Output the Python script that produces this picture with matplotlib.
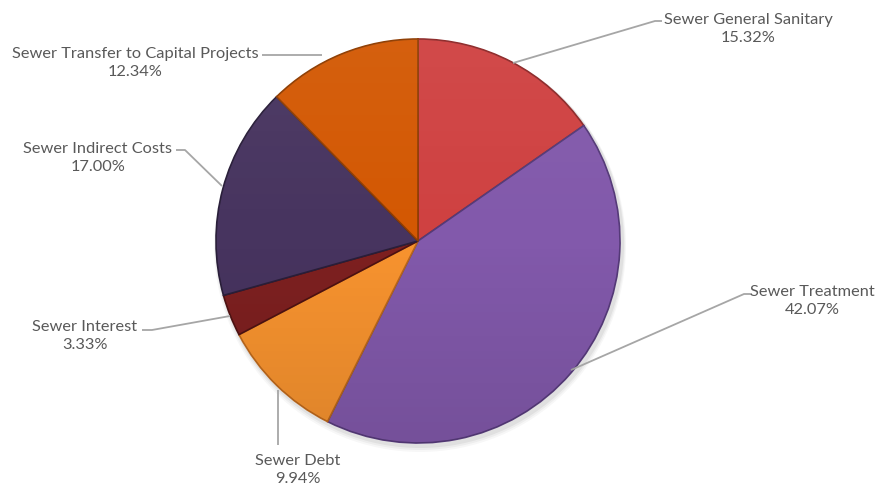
import matplotlib
matplotlib.use("Agg")
import numpy as np
import matplotlib.pyplot as plt

# sewer fund expenditure shares
names = ['Sewer General Sanitary', 'Sewer Treatment', 'Sewer Debt',
         'Sewer Interest', 'Sewer Indirect Costs', 'Sewer Transfer to Capital Projects']
shares = [15.32, 42.07, 9.94, 3.33, 17.00, 12.34]
colors = ['#cf4141', '#8259ab', '#f7932f', '#7d2020', '#47345f', '#d35803']
edges = ['#8e2a2a', '#553a78', '#b8661c', '#4e1212', '#2a1f3a', '#8f3d02']

W, H = 887, 490
fig = plt.figure(figsize=(W / 100, H / 100), dpi=100)
ax = fig.add_axes([0, 0, 1, 1])

cx, cy, r = 418, H - 241, 202

# soft shadow under the pie
for i, a in enumerate([0.05, 0.04, 0.03]):
    sh = plt.Circle((cx + 2, cy - 3 - i), r + 2 + i, color='black', alpha=a, lw=0)
    ax.add_patch(sh)

wedges, _ = ax.pie(shares, colors=colors, startangle=90, counterclock=False,
                   center=(cx, cy), radius=r, frame=True,
                   wedgeprops=dict(linewidth=1.2))
for w, ec in zip(wedges, edges):
    w.set_edgecolor(ec)

# light-to-dark vertical shading over the pie
g = np.linspace(0, 1, 256)[:, None]
shade = np.zeros((256, 1, 4))
shade[..., :3] = np.where(g < 0.5, 1.0, 0.0)[..., None]
shade[..., 3] = np.abs(g - 0.5) * np.where(g < 0.5, 0.1, 0.2)
img = ax.imshow(shade, extent=(cx - r, cx + r, cy - r, cy + r), origin='upper',
                aspect='auto', zorder=3, interpolation='bilinear')
img.set_clip_path(plt.Circle((cx, cy), r, transform=ax.transData))

ax.set_xlim(0, W)
ax.set_ylim(0, H)
ax.set_aspect('equal')
ax.axis('off')

# label positions (text centre) and leader line vertices, in pixels from top-left
label_xy = [(748, 29), (812, 301), (298, 470), (85, 336), (98, 158), (135, 63)]
leaders = [
    [(513, 63), (655, 21), (662, 21)],
    [(571, 370), (744, 294), (752, 294)],
    [(278, 390), (278, 445)],
    [(230, 316), (152, 330), (142, 330)],
    [(222, 186), (185, 150), (176, 150)],
    [(322, 55), (262, 55)],
]

grey = '#595959'
for name, v, (lx, ly), pts in zip(names, shares, label_xy, leaders):
    xs = [p[0] for p in pts]
    ys = [H - p[1] for p in pts]
    ax.plot(xs, ys, color='#a6a6a6', lw=1.3, solid_capstyle='butt')
    ax.text(lx, H - ly, '%s\n%.2f%%' % (name, v), ha='center', va='center',
            fontsize=11.8, color=grey, family='Lato', linespacing=1.3)

fig.savefig('out.png', dpi=100)
